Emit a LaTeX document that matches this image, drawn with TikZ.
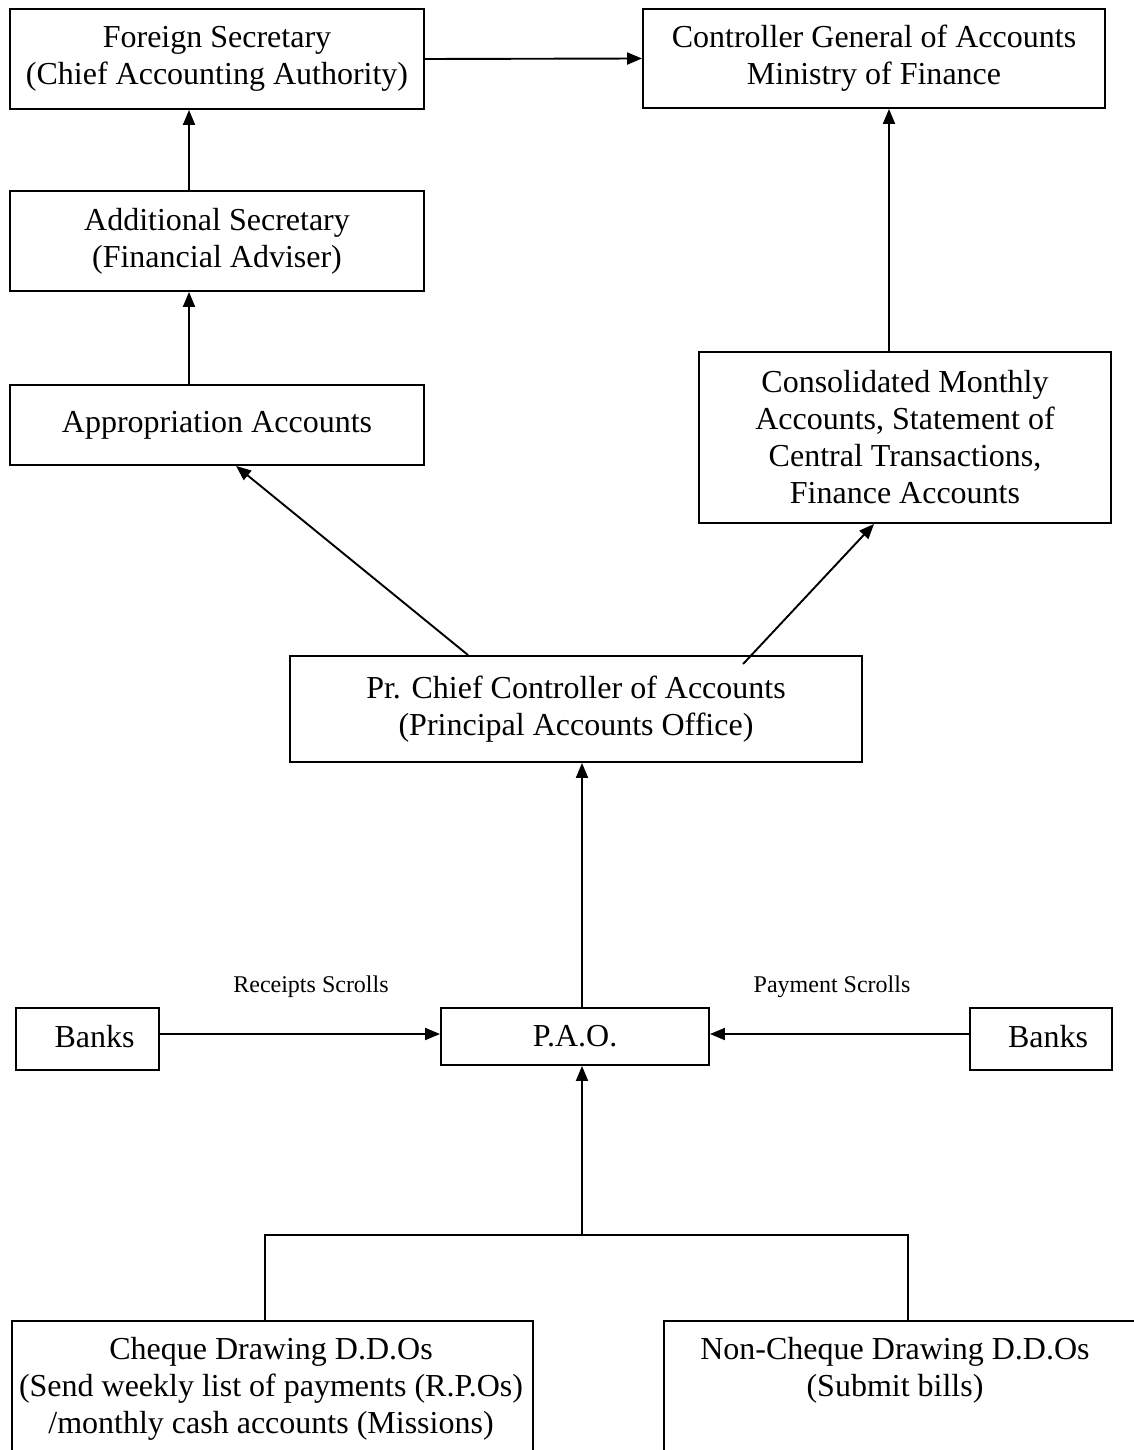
\documentclass[tikz,border=0pt]{standalone}
\usepackage{fontspec}
\setmainfont{Liberation Serif}
\usetikzlibrary{arrows.meta}
\tikzset{
  box/.style={draw, line width=1.9pt, inner sep=0pt, align=center, font=\fontsize{32}{37}\selectfont},
  plain/.style={inner sep=0pt, align=center, font=\fontsize{32}{37}\selectfont},
  lbl/.style={inner sep=0pt, font=\fontsize{24}{28}\selectfont},
  arr/.style={line width=1.9pt, -{Triangle[length=15pt,width=12pt]}},
  ln/.style={line width=1.9pt}
}
\begin{document}
\begin{tikzpicture}[x=1pt,y=-1pt]
\useasboundingbox (0,0) rectangle (1134,1450);
\clip (0,0) rectangle (1134,1450);
% boxes
\node[box, minimum width=414pt, minimum height=100pt] (fs) at (217,59) {Foreign Secretary\\(Chief Accounting Authority)};
\node[box, minimum width=462pt, minimum height=99pt] (cga) at (874,58.5) {Controller General of Accounts\\Ministry of Finance};
\node[box, minimum width=414pt, minimum height=100pt] (as) at (217,241) {Additional Secretary\\(Financial Adviser)};
\node[box, minimum width=414pt, minimum height=80pt] (ap) at (217,425) {\raisebox{5pt}{Appropriation Accounts}};
\node[box, minimum width=412pt, minimum height=171pt] (cons) at (905,437.5) {Consolidated Monthly\\Accounts, Statement of\\Central Transactions,\\Finance Accounts};
\node[box, minimum width=572pt, minimum height=106pt] (pc) at (576,709) {Pr. Chief Controller of Accounts\\(Principal Accounts Office)};
\node[box, minimum width=268pt, minimum height=57pt] (pao) at (575,1036.5) {P.A.O.};
\node[box, minimum width=143pt, minimum height=62pt] (bl) at (87.5,1039) {\hspace*{14pt}\raisebox{5pt}{Banks}};
\node[box, minimum width=142pt, minimum height=62pt] (br) at (1041,1039) {\hspace*{14pt}\raisebox{5pt}{Banks}};
\node[draw, line width=1.9pt, minimum width=521pt, minimum height=200pt, anchor=north west, inner sep=0pt] (chq) at (11,1320) {};
\node[draw, line width=1.9pt, minimum width=540pt, minimum height=200pt, anchor=north west, inner sep=0pt] (nchq) at (663,1320) {};
\node[plain, anchor=north] (chqt) at (271,1337) {Cheque Drawing D.D.Os\\(Send weekly list of payments (R.P.Os)\\/monthly cash accounts (Missions)};
\node[plain, anchor=north] (nchqt) at (895,1337) {Non-Cheque Drawing D.D.Os\\(Submit bills)};
% labels
\node[lbl] (rs) at (311,987) {Receipts Scrolls};
\node[lbl] (ps) at (832,987) {Payment Scrolls};
% helper coordinates
\coordinate (lx) at (189,0);
\coordinate (cx) at (889,0);
\coordinate (mx) at (582,0);
\coordinate (my) at (0,1034);
\coordinate (jn) at (582,1235);
\coordinate (bx1) at (265,0);
\coordinate (bx2) at (908,0);
% connectors
\draw[arr] (fs.east) -- (cga.west);
\draw[arr] (as.north -| lx) -- (fs.south -| lx);
\draw[arr] (ap.north -| lx) -- (as.south -| lx);
\draw[arr] (cons.north -| cx) -- (cga.south -| cx);
\draw[arr] ([xshift=179pt]pc.north west) -- ([xshift=227pt]ap.south west);
\draw[arr] ([xshift=454pt,yshift=-9pt]pc.north west) -- ([xshift=176pt]cons.south west);
\draw[arr] (pao.north -| mx) -- (pc.south -| mx);
\draw[arr] (bl.east |- my) -- (pao.west |- my);
\draw[arr] (br.west |- my) -- (pao.east |- my);
\draw[ln] (chq.north -| bx1) |- (jn) -| (nchq.north -| bx2);
\draw[arr] (jn) -- (pao.south -| jn);
\end{tikzpicture}
\end{document}
